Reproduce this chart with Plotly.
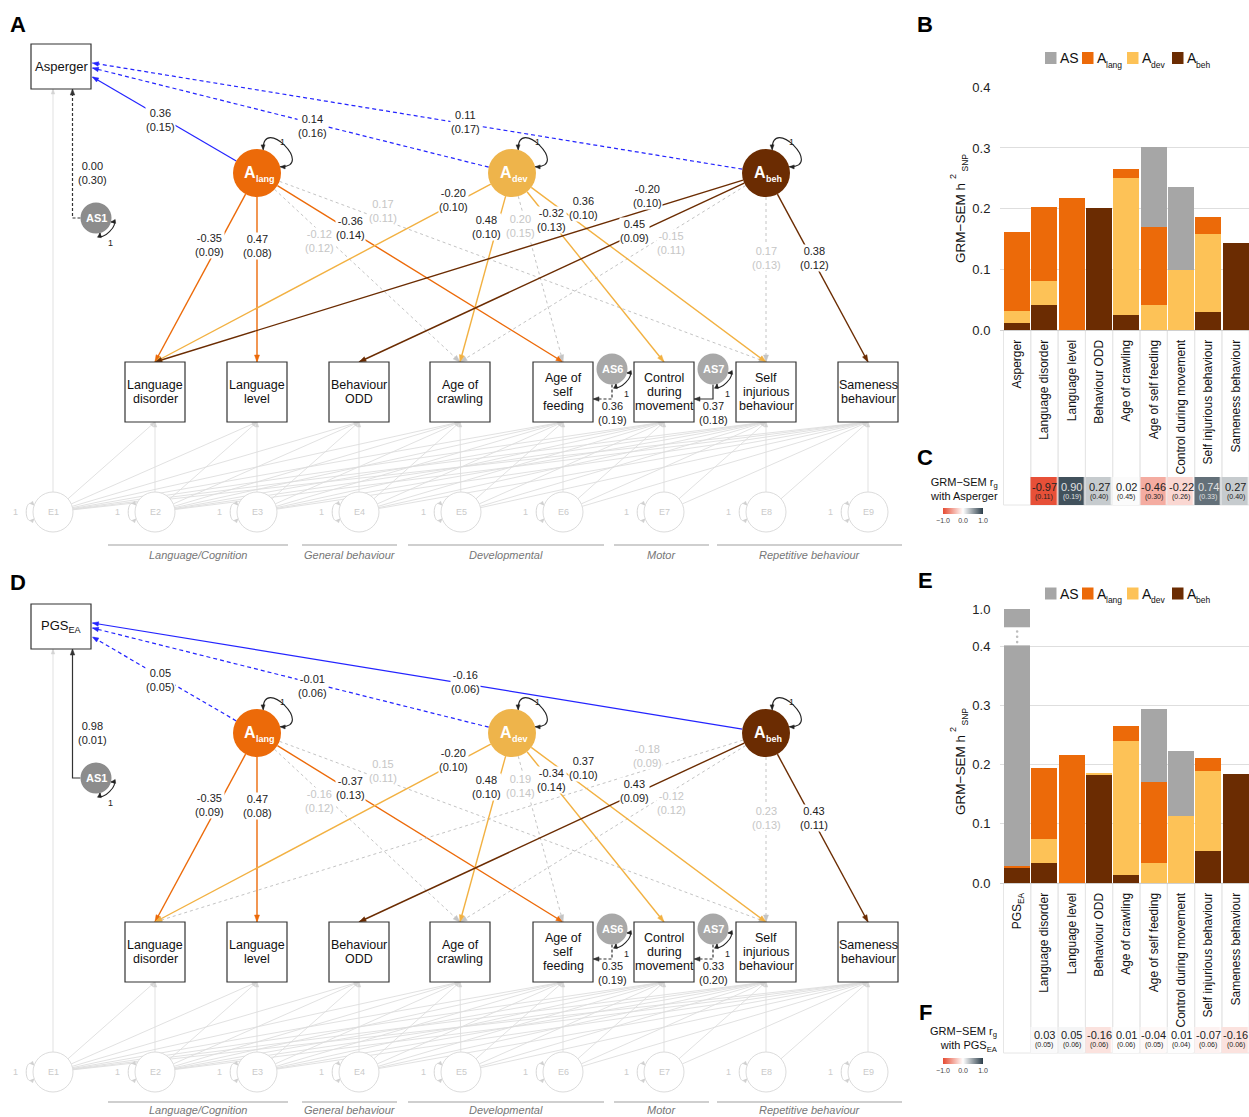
import math
import plotly.graph_objects as go

W, H = 1249, 1117
FONT = "Liberation Sans, Arial, Helvetica, sans-serif"

# ===================== DATA =====================
bar_cats_B = ["Asperger", "Language disorder", "Language level", "Behaviour ODD",
              "Age of crawling", "Age of self feeding", "Control during movement",
              "Self injurious behaviour", "Sameness behaviour"]
bar_cats_E = ["PGS<sub>EA</sub>"] + bar_cats_B[1:]

# GRM-SEM h2SNP components (panel B)
B_AS   = [0.000, 0.000, 0.000, 0.000, 0.000, 0.132, 0.137, 0.000, 0.000]
B_lang = [0.130, 0.122, 0.218, 0.000, 0.014, 0.128, 0.000, 0.028, 0.000]
B_dev  = [0.019, 0.040, 0.000, 0.000, 0.226, 0.041, 0.099, 0.129, 0.000]
B_beh  = [0.012, 0.041, 0.000, 0.201, 0.025, 0.000, 0.000, 0.029, 0.143]
# panel E
E_AS   = [0.972, 0.000, 0.000, 0.000, 0.000, 0.123, 0.110, 0.000, 0.000]
E_lang = [0.002, 0.119, 0.216, 0.000, 0.025, 0.137, 0.000, 0.022, 0.000]
E_dev  = [0.000, 0.041, 0.000, 0.002, 0.226, 0.034, 0.113, 0.135, 0.000]
E_beh  = [0.026, 0.034, 0.000, 0.183, 0.014, 0.000, 0.000, 0.054, 0.184]

# genetic correlations (panels C and F)
C_rg = [None, -0.97, 0.90, 0.27, 0.02, -0.46, -0.22, 0.74, 0.27]
C_se = [None, 0.11, 0.19, 0.40, 0.45, 0.30, 0.26, 0.33, 0.40]
F_rg = [None, 0.03, 0.05, -0.16, 0.01, -0.04, 0.01, -0.07, -0.16]
F_se = [None, 0.05, 0.06, 0.06, 0.06, 0.05, 0.04, 0.06, 0.06]

y_ticks = [0.0, 0.1, 0.2, 0.3, 0.4]
legend_names = ["AS", "A", "A", "A"]
legend_subs = ["", "lang", "dev", "beh"]

# path diagram content
observed_labels = ["Language\ndisorder", "Language\nlevel", "Behaviour\nODD", "Age of\ncrawling",
                   "Age of\nself\nfeeding", "Control\nduring\nmovement", "Self\ninjurious\nbehaviour",
                   "Sameness\nbehaviour"]
factor_subs = {"lang": "lang", "dev": "dev", "beh": "beh"}
group_names = ["Language/Cognition", "General behaviour", "Developmental", "Motor", "Repetitive behaviour"]

# loadings: (factor, observed index, estimate, se, significant)
A_load = [("lang", 0, -0.35, 0.09, True), ("lang", 1, 0.47, 0.08, True), ("lang", 3, -0.12, 0.12, False),
          ("lang", 6, 0.17, 0.11, False), ("lang", 4, -0.36, 0.14, True),
          ("dev", 0, -0.20, 0.10, True), ("dev", 3, 0.48, 0.10, True), ("dev", 4, 0.20, 0.15, False),
          ("dev", 5, -0.32, 0.13, True), ("dev", 6, 0.36, 0.10, True),
          ("beh", 0, -0.20, 0.10, True), ("beh", 2, 0.45, 0.09, True), ("beh", 3, -0.15, 0.11, False),
          ("beh", 6, 0.17, 0.13, False), ("beh", 7, 0.38, 0.12, True)]
A_top = [("lang", 0.36, 0.15, True), ("dev", 0.14, 0.16, False), ("beh", 0.11, 0.17, False)]
A_as = [("AS1", 0.00, 0.30, False), ("AS6", 0.36, 0.19, False), ("AS7", 0.37, 0.18, True)]

D_load = [("lang", 0, -0.35, 0.09, True), ("lang", 1, 0.47, 0.08, True), ("lang", 3, -0.16, 0.12, False),
          ("lang", 6, 0.15, 0.11, False), ("lang", 4, -0.37, 0.13, True),
          ("dev", 0, -0.20, 0.10, True), ("dev", 3, 0.48, 0.10, True), ("dev", 4, 0.19, 0.14, False),
          ("dev", 5, -0.34, 0.14, True), ("dev", 6, 0.37, 0.10, True),
          ("beh", 0, -0.18, 0.09, False), ("beh", 2, 0.43, 0.09, True), ("beh", 3, -0.12, 0.12, False),
          ("beh", 6, 0.23, 0.13, False), ("beh", 7, 0.43, 0.11, True)]
D_top = [("lang", 0.05, 0.05, False), ("dev", -0.01, 0.06, False), ("beh", -0.16, 0.06, True)]
D_as = [("AS1", 0.98, 0.01, True), ("AS6", 0.35, 0.19, False), ("AS7", 0.33, 0.20, False)]

# ===================== STYLE / GEOMETRY =====================
C_AS = "#a6a6a6"
C_LANG = "#ec6a09"
C_DEV_BAR = "#fdc257"
C_DEV_NODE = "#eeb44b"
C_DEV_LINE = "#f2b142"
C_BEH = "#6b2c02"
BLUE = "#2424ff"
GRAY_EDGE = "#c4c4c4"
GRAY_TXT = "#c6c6c6"
E_LINE = "#dedede"
FAC_COL = {"lang": C_LANG, "dev": C_DEV_NODE, "beh": C_BEH}
FAC_LINE = {"lang": C_LANG, "dev": C_DEV_LINE, "beh": C_BEH}

TOP_BOX = (31, 44, 91, 89)
FAC_POS = {"lang": (257, 173), "dev": (512, 173), "beh": (766, 173)}
FAC_R = 24
OBS_X = [155, 257, 359, 460, 563, 664, 766, 868]
OBS_Y0, OBS_Y1, OBS_HW = 362, 422, 30
AS_POS = {"AS1": (96, 218), "AS6": (612, 369), "AS7": (713, 369)}
AS_COL = {"AS1": "#8c8c8c", "AS6": "#a8a8a8", "AS7": "#a8a8a8"}
AS_R = 15.5
E_X = [53, 155, 257, 359, 461, 563, 664, 766, 868]
E_Y, E_R = 512, 20
TOP_END_Y = {"lang": 77, "dev": 68, "beh": 63}
LAB_POS = {("top", "lang"): (160, 120), ("top", "dev"): (312, 126), ("top", "beh"): (465, 122),
           ("lang", 0): (209, 245), ("lang", 1): (257, 246), ("lang", 3): (319, 241),
           ("lang", 6): (383, 211), ("lang", 4): (350, 228),
           ("dev", 0): (453, 200), ("dev", 3): (486, 227), ("dev", 4): (520, 226),
           ("dev", 5): (551, 220), ("dev", 6): (583, 208),
           ("beh", 0): (647, 196), ("beh", 2): (634, 231), ("beh", 3): (671, 243),
           ("beh", 6): (766, 258), ("beh", 7): (814, 258)}
AS_LAB_POS = {"AS1": (92, 173), "AS6": (612, 413), "AS7": (713, 413)}
GROUP_SPANS = [(108, 288), (302, 397), (408, 604), (614, 709), (717, 902)]
PANEL_OFF = 560
GROUP_Y = {0: (545, 555), PANEL_OFF: (1102, 1110)}   # absolute (line, text) per panel

BOLD_W = {"A": .722, "l": .278, "a": .556, "n": .611, "g": .611, "d": .611, "e": .556, "v": .556,
          "b": .611, "h": .611}

fig = go.Figure()
shapes, anns = [], []
segs, heads = {}, {}


def ann(text, x, y, size=11, color="#222", bold=False, italic=False, xanchor="center",
        yanchor="middle", xref="x", yref="y", bg=None, angle=0, align="center"):
    t = text
    if bold:
        t = "<b>" + t + "</b>"
    if italic:
        t = "<i>" + t + "</i>"
    d = dict(text=t, x=x, y=y, xref=xref, yref=yref, showarrow=False,
             font=dict(size=size, color=color, family=FONT), xanchor=xanchor, yanchor=yanchor,
             align=align, textangle=angle)
    if bg:
        d.update(bgcolor=bg, borderpad=0)
    anns.append(d)


def add_seg(pts, color, width=1.0, dash="solid"):
    key = (color, width, dash)
    xs, ys = segs.setdefault(key, ([], []))
    for (x, y) in pts:
        xs.append(x)
        ys.append(y)
    xs.append(None)
    ys.append(None)


def add_head(tip, frm, color, L=7.0, Wd=5.0):
    dx, dy = tip[0] - frm[0], tip[1] - frm[1]
    n = math.hypot(dx, dy)
    ux, uy = dx / n, dy / n
    bx, by = tip[0] - ux * L, tip[1] - uy * L
    px, py = -uy, ux
    pts = [tip, (bx + px * Wd / 2, by + py * Wd / 2), (bx - px * Wd / 2, by - py * Wd / 2), tip]
    xs, ys = heads.setdefault(color, ([], []))
    for (x, y) in pts:
        xs.append(x)
        ys.append(y)
    xs.append(None)
    ys.append(None)


def unit(a, b):
    dx, dy = b[0] - a[0], b[1] - a[1]
    n = math.hypot(dx, dy)
    return dx / n, dy / n


def circle(c, r, fill, line_color=None, lw=1.0):
    shapes.append(dict(type="circle", xref="x", yref="y", x0=c[0] - r, x1=c[0] + r, y0=c[1] - r,
                       y1=c[1] + r, fillcolor=fill,
                       line=dict(color=line_color or fill, width=lw if line_color else 0),
                       layer="above"))


def rect(x0, y0, x1, y1, line_color="#333", lw=1.2, fill="white"):
    shapes.append(dict(type="rect", xref="x", yref="y", x0=x0, x1=x1, y0=y0, y1=y1,
                       fillcolor=fill, line=dict(color=line_color, width=lw), layer="above"))


def loop(c, r, a0, a1, ext, color, width=1.0, L=5, Wd=4):
    s = 1 if a1 > a0 else -1
    r0, r1 = math.radians(a0), math.radians(a1)
    q0, q1 = math.radians(a0 - 10 * s), math.radians(a1 + 10 * s)
    p0 = (c[0] + r * math.cos(r0), c[1] + r * math.sin(r0))
    p3 = (c[0] + r * math.cos(r1), c[1] + r * math.sin(r1))
    c1 = (c[0] + (r + ext) * math.cos(q0), c[1] + (r + ext) * math.sin(q0))
    c2 = (c[0] + (r + ext) * math.cos(q1), c[1] + (r + ext) * math.sin(q1))
    path = "M %.2f,%.2f C %.2f,%.2f %.2f,%.2f %.2f,%.2f" % (p0 + c1 + c2 + p3)
    shapes.append(dict(type="path", path=path, xref="x", yref="y",
                       line=dict(color=color, width=width), layer="above"))
    add_head(p0, c1, color, L, Wd)
    add_head(p3, c2, color, L, Wd)


def fmt(v):
    return "%.2f" % v


def draw_panel(off, top_text, load, top, asl):
    x0, y0, x1, y1 = TOP_BOX
    # residual (E) structure: Cholesky paths
    targets = [(E_X[0], y1 + off)] + [(x, OBS_Y1 + off) for x in OBS_X]
    for i in range(9):
        c = (E_X[i], E_Y + off)
        for j in range(i, 9):
            t = targets[j]
            u = unit(c, t)
            s = (c[0] + E_R * u[0], c[1] + E_R * u[1])
            add_seg([s, t], E_LINE, 0.9)
            add_head(t, s, "#d4d4d4", L=5, Wd=3.5)
    for i in range(9):
        c = (E_X[i], E_Y + off)
        circle(c, E_R, "white", "#dcdcdc", 1.0)
        ann("E%d" % (i + 1), c[0], c[1], size=9, color="#cacaca")
        loop(c, E_R, 160, 200, 14, "#d0d0d0", 0.9, L=4, Wd=3.5)
        ann("1", c[0] - 38, c[1], size=9, color="#cccccc")

    # top box
    rect(x0, y0 + off, x1, y1 + off)
    ann(top_text, (x0 + x1) / 2, (y0 + y1) / 2 + off, size=13, color="#111")

    # factor -> top variable
    for (f, est, se, sig) in top:
        c = (FAC_POS[f][0], FAC_POS[f][1] + off)
        t = (x1 + 1.5, TOP_END_Y[f] + off)
        u = unit(c, t)
        s = (c[0] + FAC_R * u[0], c[1] + FAC_R * u[1])
        add_seg([s, t], BLUE, 1.2, "solid" if sig else "4px,3px")
        add_head(t, s, BLUE, L=6, Wd=4.5)
        lx, ly = LAB_POS[("top", f)]
        ann(fmt(est) + "<br>(" + fmt(se) + ")", lx, ly + off, size=11, color="#222", bg="white")

    # factor loadings
    for (f, j, est, se, sig) in load:
        c = (FAC_POS[f][0], FAC_POS[f][1] + off)
        t = (OBS_X[j], OBS_Y0 + off)
        u = unit(c, t)
        s = (c[0] + FAC_R * u[0], c[1] + FAC_R * u[1])
        if sig:
            add_seg([s, t], FAC_LINE[f], 1.4)
            add_head(t, s, FAC_LINE[f], L=7, Wd=5)
        else:
            add_seg([s, t], GRAY_EDGE, 1.0, "3px,3px")
            add_head(t, s, GRAY_EDGE, L=7, Wd=5)
        lx, ly = LAB_POS[(f, j)]
        ann(fmt(est) + "<br>(" + fmt(se) + ")", lx, ly + off, size=11,
            color="#222" if sig else GRAY_TXT, bg="white")

    # AS specific paths
    for (name, est, se, sig) in asl:
        c = (AS_POS[name][0], AS_POS[name][1] + off)
        dash = "solid" if sig else "3px,2px"
        if name == "AS1":
            xv = c[0] - AS_R - 8
            pts = [(c[0] - AS_R, c[1]), (xv, c[1]), (xv, y1 + off)]
            add_seg(pts, "#333", 1.2, dash)
            add_head((xv, y1 + off), (xv, c[1]), "#333", L=6, Wd=4.5)
        else:
            j = 4 if name == "AS6" else 5
            bx = OBS_X[j] + OBS_HW
            yh = c[1] + AS_R + 14.5
            pts = [(c[0], c[1] + AS_R), (c[0], yh), (bx, yh)]
            add_seg(pts, "#333", 1.2, dash)
            add_head((bx, yh), (c[0], yh), "#333", L=6, Wd=4.5)
        lx, ly = AS_LAB_POS[name]
        ann(fmt(est) + "<br>(" + fmt(se) + ")", lx, ly + off, size=11, color="#222")

    # factor nodes
    for f, (cx, cy) in FAC_POS.items():
        c = (cx, cy + off)
        circle(c, FAC_R, FAC_COL[f])
        loop(c, FAC_R, -75, -15, 35, "#222", 1.1, L=5, Wd=4)
        ann("1", cx + 25, cy - 31 + off, size=9, color="#222")
        wA = BOLD_W["A"] * 16
        ws = sum(BOLD_W[ch] for ch in factor_subs[f]) * 9
        st = cx - (wA + ws) / 2
        ann("A", st, c[1] - 1, size=16, color="white", bold=True, xanchor="left")
        ann(factor_subs[f], st + wA, c[1] + 6, size=9, color="white", bold=True, xanchor="left")

    # AS nodes
    for name, (cx, cy) in AS_POS.items():
        c = (cx, cy + off)
        circle(c, AS_R, AS_COL[name])
        ann(name, cx, c[1], size=11, color="white", bold=True)
        loop(c, AS_R, 15, 75, 12, "#222", 1.1, L=4.5, Wd=4)
        ann("1", cx + 14, c[1] + 25, size=9, color="#222")

    # observed boxes
    for j, x in enumerate(OBS_X):
        rect(x - OBS_HW, OBS_Y0 + off, x + OBS_HW, OBS_Y1 + off)
        lines = observed_labels[j].split("\n")
        cy = (OBS_Y0 + OBS_Y1) / 2 + off
        for k, ln in enumerate(lines):
            ann(ln, x, cy + 14 * (k - (len(lines) - 1) / 2), size=12.5, color="#111")

    # groups
    gly, gty = GROUP_Y[off]
    for (gx0, gx1), name in zip(GROUP_SPANS, group_names):
        shapes.append(dict(type="line", xref="x", yref="y", x0=gx0, x1=gx1, y0=gly, y1=gly,
                           line=dict(color="#a0a0a0", width=1.2)))
        ann(name, (gx0 + gx1) / 2, gty, size=11, color="#777", italic=True)


draw_panel(0, "Asperger", A_load, A_top, A_as)
draw_panel(PANEL_OFF, "PGS<sub>EA</sub>", D_load, D_top, D_as)

for (color, width, dash), (xs, ys) in segs.items():
    fig.add_trace(go.Scatter(x=xs, y=ys, mode="lines", line=dict(color=color, width=width, dash=dash),
                             xaxis="x", yaxis="y", hoverinfo="skip", showlegend=False))
for color, (xs, ys) in heads.items():
    fig.add_trace(go.Scatter(x=xs, y=ys, mode="lines", fill="toself", fillcolor=color,
                             line=dict(color=color, width=0.5), xaxis="x", yaxis="y",
                             hoverinfo="skip", showlegend=False))

# ===================== BAR PANELS =====================
idx = list(range(len(bar_cats_B)))
XR = [-0.628, 8.49]
for vals, col in [(B_beh, C_BEH), (B_dev, C_DEV_BAR), (B_lang, C_LANG), (B_AS, C_AS)]:
    fig.add_trace(go.Bar(x=idx, y=vals, width=0.95, marker=dict(color=col, line=dict(width=0)),
                         xaxis="x2", yaxis="y2", hoverinfo="skip", showlegend=False))
for vals, col in [(E_beh, C_BEH), (E_dev, C_DEV_BAR), (E_lang, C_LANG), (E_AS, C_AS)]:
    fig.add_trace(go.Bar(x=idx, y=vals, width=0.95, marker=dict(color=col, line=dict(width=0)),
                         xaxis="x3", yaxis="y3", hoverinfo="skip", showlegend=False))

PX_PER_UNIT_E = (883 - 646) / 0.4
E_TOP = (883 - 609) / PX_PER_UNIT_E
E_GAP = (646 - 627) / PX_PER_UNIT_E

CSCALE = [[0, "rgb(230,75,50)"], [0.5, "rgb(255,255,255)"], [1, "rgb(44,62,74)"]]


def heat(z, yax, cb_y):
    return go.Heatmap(z=[z], x=idx, y=[0], zmin=-1, zmax=1, colorscale=CSCALE, xgap=1.5,
                      xaxis="x2" if yax == "y4" else "x3", yaxis=yax, hoverinfo="skip",
                      colorbar=dict(orientation="h", x=963 / W, xanchor="center", y=1 - cb_y / H,
                                    yanchor="top", len=40, lenmode="pixels", thickness=6,
                                    tickvals=[-1, 0, 1], ticktext=["\u22121.0", "0.0", "1.0"],
                                    tickfont=dict(size=7, color="#444", family=FONT),
                                    outlinewidth=0, xpad=0, ypad=0, ticks="",
                                    ticklabelposition="outside bottom"))


fig.add_trace(heat(C_rg, "y4", 508))
fig.add_trace(heat(F_rg, "y5", 1058))

# cell texts
for i in idx:
    if C_rg[i] is not None:
        col = "#e0e0e0" if C_rg[i] > 0.5 else "#222"
        ann(fmt(C_rg[i]), i, 0.15, size=11, color=col, xref="x2", yref="y4")
        ann("(" + fmt(C_se[i]) + ")", i, -0.22, size=7, color=col, xref="x2", yref="y4")
    if F_rg[i] is not None:
        col = "#e0e0e0" if F_rg[i] > 0.5 else "#222"
        ann(fmt(F_rg[i]), i, 0.18, size=11, color=col, xref="x3", yref="y5")
        ann("(" + fmt(F_se[i]) + ")", i, -0.2, size=7, color=col, xref="x3", yref="y5")

# label cells (column frames below the bars)
for i in idx:
    for xr, ytop, ybot in [("x2", 330, 505), ("x3", 883, 1053)]:
        shapes.append(dict(type="rect", xref=xr, yref="paper", x0=i - 0.5, x1=i + 0.5,
                           y0=1 - ybot / H, y1=1 - ytop / H, line=dict(color="#e6e6e6", width=1),
                           fillcolor="rgba(0,0,0,0)", layer="below"))

# axis break in panel E (white gap over the clipped bar, with dotted marks)
shapes.append(dict(type="rect", xref="x3", yref="y3", x0=-0.5, x1=0.5, y0=0.4 + 0.0015,
                   y1=0.4 + E_GAP, fillcolor="white", line=dict(width=0), layer="above"))
for frac in (0.22, 0.5, 0.78):
    shapes.append(dict(type="circle", xref="x3", yref="y3", xsizemode="pixel", ysizemode="pixel",
                       xanchor=0, yanchor=0.4 + E_GAP * frac, x0=-1.3, x1=1.3, y0=-1.3, y1=1.3,
                       fillcolor="#bdbdbd", line=dict(width=0), layer="above"))

# legends
LEG_SQ_X = [1045, 1082, 1127, 1172]
LEG_COLS = [C_AS, C_LANG, C_DEV_BAR, C_BEH]
REG_W = {"A": .667, "S": .667, "l": .222, "a": .556, "n": .556, "g": .556, "d": .556, "e": .556,
         "v": .5, "b": .556, "h": .556}
for ly in (58, 593.5):
    for k, x0 in enumerate(LEG_SQ_X):
        shapes.append(dict(type="rect", xref="x", yref="y", x0=x0, x1=x0 + 11.5, y0=ly - 6,
                           y1=ly + 6, fillcolor=LEG_COLS[k], line=dict(width=0)))
        tx = x0 + 13
        ann(legend_names[k], tx, ly, size=14, color="#111", xanchor="left")
        if legend_subs[k]:
            wA = sum(REG_W[ch] for ch in legend_names[k]) * 14
            ann(legend_subs[k], tx + wA, ly + 6.5, size=8.5, color="#111", xanchor="left")

# y axis titles
for (yc, y2, ys) in [(223, 177, 163), (775, 730, 717)]:
    ann("GRM\u2212SEM h", 960, yc, size=13.5, color="#111", angle=-90)
    ann("2", 953, y2, size=9, color="#111", angle=-90)
    ann("SNP", 964.5, ys, size=8.5, color="#111", angle=-90)

# correlation row labels
ann("GRM\u2212SEM r<sub>g</sub><br>with Asperger", 1000, 489, size=11, color="#111",
    xanchor="right", align="right")
ann("GRM\u2212SEM r<sub>g</sub><br>with PGS<sub>EA</sub>", 1000, 1039, size=11, color="#111",
    xanchor="right", align="right")

# panel letters
for letter, (x, y) in zip("ABCDEF", [(18, 24), (925, 24), (925, 457), (18, 582), (925, 580),
                                     (925, 1012)]):
    ann(letter, x, y, size=22, color="#000", bold=True)

TICKFONT = dict(size=12, color="#111", family=FONT)
fig.update_layout(
    width=W, height=H, autosize=False, margin=dict(l=0, r=0, t=0, b=0, pad=0, autoexpand=False),
    paper_bgcolor="white", plot_bgcolor="rgba(0,0,0,0)", showlegend=False, barmode="stack",
    font=dict(family=FONT),
    xaxis=dict(domain=[0, 1], range=[0, W], visible=False, fixedrange=True),
    yaxis=dict(domain=[0, 1], range=[H, 0], visible=False, fixedrange=True),
    xaxis2=dict(domain=[1000 / W, 1], range=XR, anchor="y2", tickvals=idx, ticktext=bar_cats_B,
                tickangle=-90, tickfont=TICKFONT, showgrid=False, zeroline=False, ticks="outside",
                ticklen=4, tickcolor="rgba(0,0,0,0)", showline=False, automargin=False),
    yaxis2=dict(domain=[1 - 330 / H, 1 - 87 / H], range=[0, 0.4005], anchor="x2", tickvals=y_ticks,
                ticktext=["%.1f" % v for v in y_ticks], tickfont=dict(size=13, color="#222", family=FONT),
                gridcolor="#dedede", gridwidth=1, zeroline=True, zerolinecolor="#d0d0d0",
                zerolinewidth=1, ticks="outside", ticklen=6, tickcolor="rgba(0,0,0,0)",
                automargin=False),
    xaxis3=dict(domain=[1000 / W, 1], range=XR, anchor="y3", tickvals=idx, ticktext=bar_cats_E,
                tickangle=-90, tickfont=TICKFONT, showgrid=False, zeroline=False, ticks="outside",
                ticklen=4, tickcolor="rgba(0,0,0,0)", showline=False, automargin=False),
    yaxis3=dict(domain=[1 - 883 / H, 1 - 609 / H], range=[0, E_TOP + 0.0005], anchor="x3",
                tickvals=y_ticks + [E_TOP], ticktext=["%.1f" % v for v in y_ticks] + ["1.0"],
                tickfont=dict(size=13, color="#222", family=FONT), gridcolor="#dedede",
                gridwidth=1, zeroline=True, zerolinecolor="#d0d0d0", zerolinewidth=1,
                ticks="outside", ticklen=6, tickcolor="rgba(0,0,0,0)", automargin=False),
    yaxis4=dict(domain=[1 - 505 / H, 1 - 477 / H], range=[-0.5, 0.5], anchor="x2", visible=False),
    yaxis5=dict(domain=[1 - 1053 / H, 1 - 1027 / H], range=[-0.5, 0.5], anchor="x3", visible=False),
    shapes=shapes, annotations=anns,
)

POST = "document.documentElement.style.margin='0';document.body.style.margin='0';"
fig.write_html("out.html", config={"displayModeBar": False}, post_script=POST)
